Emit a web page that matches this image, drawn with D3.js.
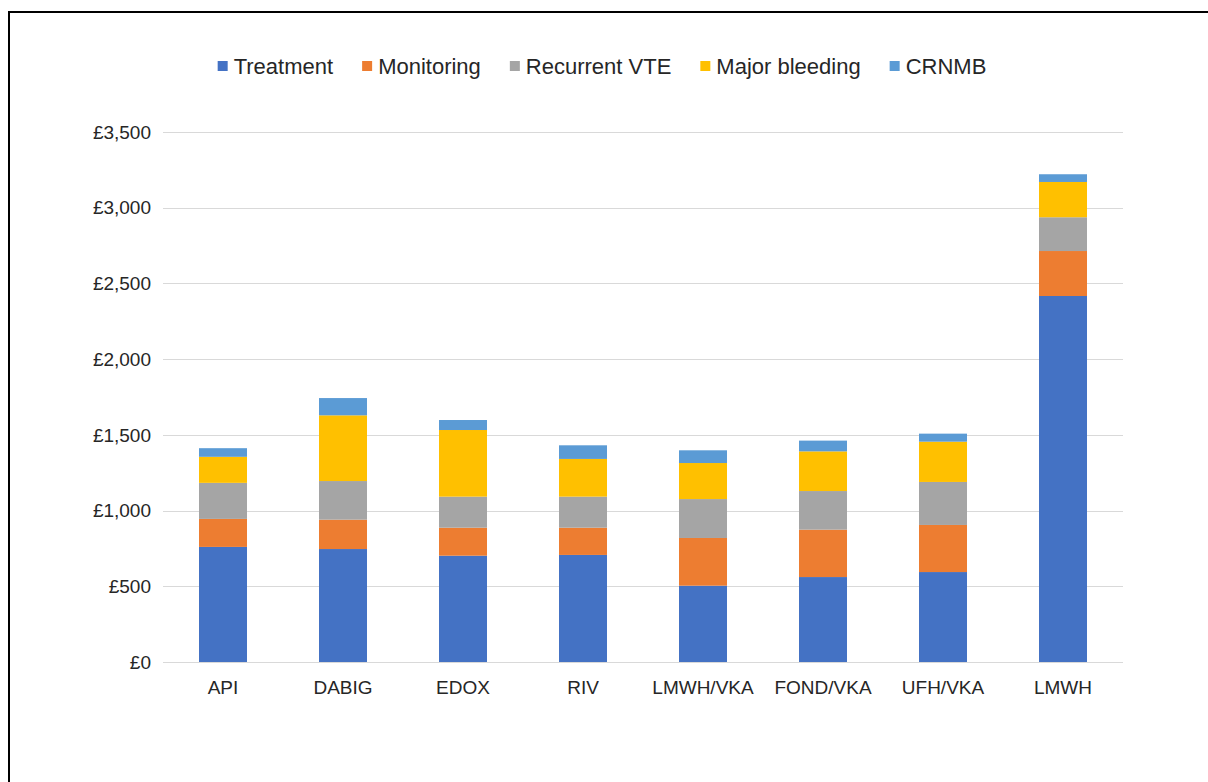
<!DOCTYPE html>
<html>
<head>
<meta charset="utf-8">
<script src="https://cdn.jsdelivr.net/npm/d3@7"></script>
<style>
    body { margin: 0; background: #fff; }
    #chart { width: 1208px; height: 782px; }
    .tick-label { font-family: "Liberation Sans", Arial, sans-serif; font-size: 19px; fill: #262626; }
    .legend-label { font-family: "Liberation Sans", Arial, sans-serif; font-size: 22px; fill: #262626; }
</style>
</head>
<body>
<div id="chart"></div>
<script>
// cost per patient by component
var categories = ["API", "DABIG", "EDOX", "RIV", "LMWH/VKA", "FOND/VKA", "UFH/VKA", "LMWH"]
var seriesNames = ["Treatment", "Monitoring", "Recurrent VTE", "Major bleeding", "CRNMB"]
var treatment = [760, 746, 702, 707, 504, 561, 594, 2417]
var monitoring = [185, 194, 185, 180, 315, 313, 311, 297]
var recurrentVTE = [238, 255, 205, 205, 257, 255, 284, 223]
var majorBleeding = [172, 434, 440, 249, 238, 262, 266, 233]
var crnmb = [57, 114, 66, 90, 84, 71, 53, 51]
var yTicks = [0, 500, 1000, 1500, 2000, 2500, 3000, 3500]

var colors = ["#4472C4", "#ED7D31", "#A5A5A5", "#FFC000", "#5B9BD5"]

var width = 1208, height = 782
const margin = {top: 132, bottom: 120, left: 163, right: 85}

var svg, xScale, yScale

drawChart()

function drawChart()
{
    svg = d3.select("#chart")
        .append("svg")
        .attr("width", width)
        .attr("height", height)
        .attr("display", "block")

    // outer frame, only top and left edges fall inside the picture
    svg.append("rect")
        .attr("x", 9)
        .attr("y", 12)
        .attr("width", 1400)
        .attr("height", 1000)
        .attr("fill", "none")
        .attr("stroke", "#000")
        .attr("stroke-width", 2)

    xScale = d3.scaleBand()
        .domain(categories)
        .range([margin.left, width - margin.right])
        .paddingInner(0.6)
        .paddingOuter(0.3)

    yScale = d3.scaleLinear()
        .domain([0, 3500])
        .range([height - margin.bottom, margin.top])

    // gridlines
    svg.append("g")
        .selectAll("line")
        .data(yTicks)
        .enter()
        .append("line")
        .attr("x1", margin.left)
        .attr("x2", width - margin.right)
        .attr("y1", function(d) { return Math.round(yScale(d)) + 0.5 })
        .attr("y2", function(d) { return Math.round(yScale(d)) + 0.5 })
        .attr("stroke", "#D9D9D9")
        .attr("stroke-width", 1)

    // y labels
    var fmt = d3.format(",")
    svg.append("g")
        .selectAll("text")
        .data(yTicks)
        .enter()
        .append("text")
        .attr("class", "tick-label")
        .attr("x", 151)
        .attr("y", function(d) { return yScale(d) })
        .attr("dy", "0.35em")
        .attr("text-anchor", "end")
        .text(function(d) { return "£" + fmt(d) })

    // stacked bars
    var rows = categories.map(function(c, i) {
        return {
            cat: c,
            "Treatment": treatment[i],
            "Monitoring": monitoring[i],
            "Recurrent VTE": recurrentVTE[i],
            "Major bleeding": majorBleeding[i],
            "CRNMB": crnmb[i]
        }
    })
    var stacked = d3.stack().keys(seriesNames)(rows)

    svg.append("g")
        .selectAll("g")
        .data(stacked)
        .enter()
        .append("g")
        .attr("fill", function(s, i) { return colors[i] })
        .selectAll("rect")
        .data(function(s) { return s })
        .enter()
        .append("rect")
        .attr("x", function(d) { return xScale(d.data.cat) })
        .attr("width", xScale.bandwidth())
        .attr("y", function(d) { return yScale(d[1]) })
        .attr("height", function(d) { return yScale(d[0]) - yScale(d[1]) })

    // x labels
    svg.append("g")
        .selectAll("text")
        .data(categories)
        .enter()
        .append("text")
        .attr("class", "tick-label")
        .attr("x", function(c) { return xScale(c) + xScale.bandwidth() / 2 })
        .attr("y", 687)
        .attr("dy", "0.35em")
        .attr("text-anchor", "middle")
        .text(function(c) { return c })

    drawLegend()
}

function drawLegend()
{
    var legend = svg.append("g")
    var box = 10, gap = 6, itemGap = 29
    var items = legend.selectAll("g")
        .data(seriesNames)
        .enter()
        .append("g")
    items.append("rect")
        .attr("width", box)
        .attr("height", box)
        .attr("y", -box / 2)
        .attr("fill", function(s, i) { return colors[i] })
    items.append("text")
        .attr("class", "legend-label")
        .attr("x", box + gap)
        .attr("dy", "0.35em")
        .text(function(s) { return s })

    var offset = 0
    items.each(function() {
        var w = this.getBBox().width
        d3.select(this).attr("transform", "translate(" + offset + ",0)")
        offset += w + itemGap
    })
    var total = offset - itemGap
    legend.attr("transform", "translate(" + (602 - total / 2) + ",66)")
}
</script>
</body>
</html>
